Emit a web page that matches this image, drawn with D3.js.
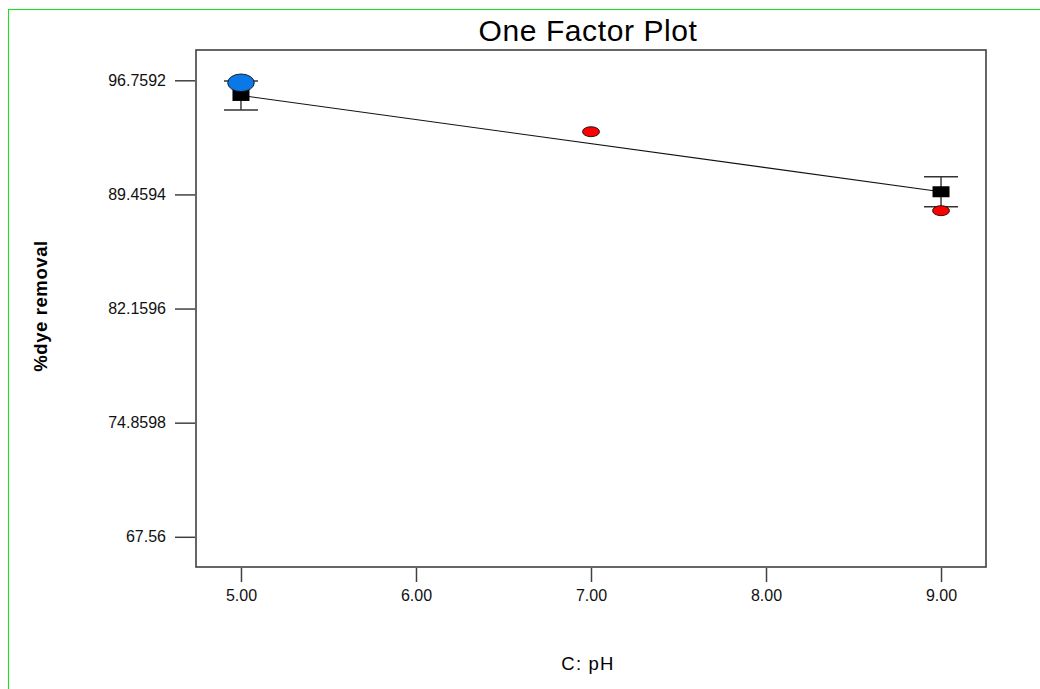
<!DOCTYPE html>
<html>
<head>
<meta charset="utf-8">
<script src="https://cdn.jsdelivr.net/npm/d3@7"></script>
<style>
html,body{margin:0;padding:0;background:#fff;}
svg{display:block;font-family:"Liberation Sans",Arial,sans-serif;}
</style>
</head>
<body>
<svg id="chart" width="1040" height="689"></svg>
<script>
// ---- data ----
const xTicks = [5, 6, 7, 8, 9];
const yTicks = [67.56, 74.8598, 82.1596, 89.4594, 96.7592];
const predX = [5, 9];
const predY = [95.79, 89.63];
const errLow = [94.86, 88.67];
const errHigh = [96.71, 90.59];
const actualX = [5, 7, 9];
const actualY = [96.60, 93.47, 88.42];
const actualBig = [true, false, false];

const svg = d3.select("#chart");
const W = 1040, H = 689;
const pL = 196, pR = 986, pT = 50, pB = 567;

const x = d3.scaleLinear().domain([4.743, 9.257]).range([pL, pR]);
const y = d3.scaleLinear().domain([65.628, 98.697]).range([pB, pT]);

// green frame
svg.append("rect").attr("x", 8.5).attr("y", 9.5).attr("width", W + 10).attr("height", H + 10)
  .attr("fill", "none").attr("stroke", "#22dd22").attr("stroke-width", 1.1);

// plot box
svg.append("rect").attr("x", pL).attr("y", pT).attr("width", pR - pL).attr("height", pB - pT)
  .attr("fill", "#fff").attr("stroke", "#404040").attr("stroke-width", 1.6);

// y axis
const yAxis = d3.axisLeft(y).tickValues(yTicks).tickSize(20).tickPadding(9)
  .tickFormat(d => String(d));
const gy = svg.append("g").attr("transform", `translate(${pL - 1},0)`).call(yAxis);
gy.select(".domain").remove();
gy.selectAll(".tick line").attr("stroke", "#404040").attr("stroke-width", 1.5);
gy.selectAll(".tick text").attr("font-size", "16px").attr("fill", "#111")
  .attr("font-family", "'Liberation Sans', Arial, sans-serif");

// x axis
const xAxis = d3.axisBottom(x).tickValues(xTicks).tickSize(14).tickPadding(8)
  .tickFormat(d3.format(".2f"));
const gx = svg.append("g").attr("transform", `translate(0,${pB + 1})`).call(xAxis);
gx.select(".domain").remove();
gx.selectAll(".tick line").attr("stroke", "#404040").attr("stroke-width", 1.5);
gx.selectAll(".tick text").attr("font-size", "16px").attr("fill", "#111")
  .attr("font-family", "'Liberation Sans', Arial, sans-serif");

// prediction line
const pts = predX.map((d, i) => [d, predY[i]]);
svg.append("path").datum(pts)
  .attr("d", d3.line().x(d => x(d[0])).y(d => y(d[1])))
  .attr("fill", "none").attr("stroke", "#111").attr("stroke-width", 1.1);

// error bars
const eb = svg.append("g");
predX.forEach((d, i) => {
  const cx = x(d);
  eb.append("line").attr("x1", cx).attr("x2", cx).attr("y1", y(errHigh[i])).attr("y2", y(errLow[i]))
    .attr("stroke", "#222").attr("stroke-width", 1.3);
  [errHigh[i], errLow[i]].forEach(v => {
    eb.append("line").attr("x1", cx - 17).attr("x2", cx + 17).attr("y1", y(v)).attr("y2", y(v))
      .attr("stroke", "#333").attr("stroke-width", 1.5);
  });
  eb.append("rect").attr("x", cx - 8.5).attr("y", y(predY[i]) - 5.5).attr("width", 17).attr("height", 11)
    .attr("fill", "#000");
});

// actual points
actualX.forEach((d, i) => {
  const big = actualBig[i];
  svg.append("ellipse").attr("cx", x(d)).attr("cy", y(actualY[i]))
    .attr("rx", big ? 13.3 : 8.5).attr("ry", big ? 8.8 : 5)
    .attr("fill", big ? "#0a78e6" : "#ff0000")
    .attr("stroke", "#111").attr("stroke-width", 0.9);
});

// title
svg.append("text").attr("x", 588).attr("y", 41).attr("text-anchor", "middle")
  .attr("font-size", "30px").attr("fill", "#000").style("letter-spacing", "0.6px")
  .text("One Factor Plot");

// x label
svg.append("text").attr("x", 588).attr("y", 670).attr("text-anchor", "middle")
  .attr("font-size", "18.5px").attr("fill", "#000").style("letter-spacing", "1.2px")
  .text("C: pH");

// y label
svg.append("text").attr("transform", "translate(47,306) rotate(-90)").attr("text-anchor", "middle")
  .attr("font-size", "18.5px").attr("font-weight", "bold").attr("fill", "#000").style("letter-spacing", "0.6px")
  .text("%dye removal");
</script>
</body>
</html>
